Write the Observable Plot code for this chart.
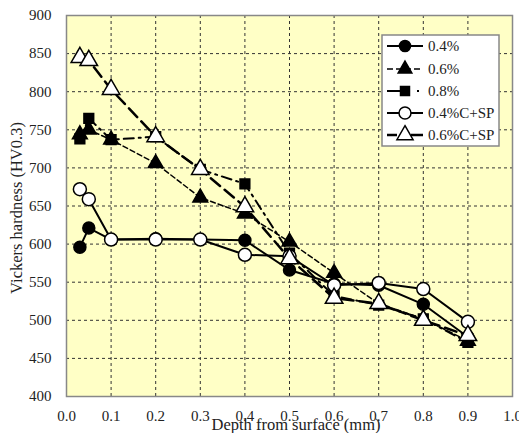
<!DOCTYPE html>
<html>
<head>
<meta charset="utf-8">
<script src="https://cdn.jsdelivr.net/npm/d3@7"></script>
<script src="https://cdn.jsdelivr.net/npm/@observablehq/plot@0.6"></script>
<style>
  html, body { margin: 0; padding: 0; background: #fff; }
  #chart { position: relative; width: 519px; height: 433px; }
</style>
</head>
<body>
<div id="chart"></div>
<script>
// ---- data ----
const depths = [0.03, 0.05, 0.1, 0.2, 0.3, 0.4, 0.5, 0.6, 0.7, 0.8, 0.9];
const hv04   = [596, 621, 606, 607, 606, 605, 566, 548, 546, 521, 478];
const hv06   = [744, 750, 737, 706, 661, 640, 603, 562, 522, 502, 473];
const hv08   = [738, 765, 737, 741, 698, 679, 588, 532, 520, 502, 471];
const hv04sp = [672, 659, 606, 606, 606, 586, 584, 546, 549, 541, 498];
const hv06sp = [845, 841, 803, 741, 698, 649, 581, 529, 522, 500, 480];
const seriesNames = ["0.4%", "0.6%", "0.8%", "0.4%C+SP", "0.6%C+SP"];
const xTicks = [0, 0.1, 0.2, 0.3, 0.4, 0.5, 0.6, 0.7, 0.8, 0.9, 1.0];
const yTicks = [400, 450, 500, 550, 600, 650, 700, 750, 800, 850, 900];
const xLabel = "Depth from surface (mm)";
const yLabel = "Vickers hardness (HV0.3)";

const FONT = "'Liberation Serif', 'DejaVu Serif', serif";

const styles = [
  {vals: hv04,   symbol: "circle",   fill: "black", r: 6,   dash: null,       sw: 2,   legDash: null},
  {vals: hv06,   symbol: "triangle", fill: "black", r: 5.5, dash: "5,3",      sw: 1.5, legDash: "6,3"},
  {vals: hv08,   symbol: "square",   fill: "black", r: 5.5, dash: "10,5,2,5", sw: 2,   legDash: "18,12,2,10"},
  {vals: hv04sp, symbol: "circle",   fill: "white", r: 6.5, dash: null,       sw: 2,   legDash: null},
  {vals: hv06sp, symbol: "triangle", fill: "white", r: 6.5, dash: "12,6",     sw: 2.5, legDash: "10,14,12,10"}
];

const marks = [
  Plot.frame({fill: "#FFFFC6"}),
  Plot.gridX(xTicks.slice(1, -1), {stroke: "#333", strokeOpacity: 1, strokeDasharray: "3,3", strokeWidth: 1}),
  Plot.gridY(yTicks.slice(1, -1), {stroke: "#333", strokeOpacity: 1, strokeDasharray: "3,3", strokeWidth: 1}),
  Plot.frame({stroke: "#888", strokeWidth: 1.5}),
  Plot.axisX(xTicks, {tickSize: 0, tickPadding: 14, tickFormat: d3.format(".1f"), label: null, fontSize: 15, fontFamily: FONT, fill: "#222"}),
  Plot.axisY(yTicks, {tickSize: 0, tickPadding: 15, label: null, fontSize: 15, fontFamily: FONT, fill: "#222"})
];
styles.forEach((s, i) => {
  const data = depths.map((d, j) => ({x: d, y: s.vals[j], s: seriesNames[i]}));
  marks.push(Plot.line(data, {x: "x", y: "y", stroke: "black", strokeWidth: s.sw, strokeDasharray: s.dash ?? undefined}));
  marks.push(Plot.dot(data, {x: "x", y: "y", symbol: () => s.symbol, r: s.r, fill: s.fill, stroke: "black", strokeWidth: 1.5}));
});

const plot = Plot.plot({
  width: 519,
  height: 433,
  marginLeft: 66,
  marginRight: 7,
  marginTop: 15,
  marginBottom: 37,
  style: {fontFamily: FONT, fontSize: "15px", color: "#222", background: "white", overflow: "visible"},
  x: {domain: [0, 1]},
  y: {domain: [400, 900]},
  symbol: {type: "identity"},
  marks
});
document.getElementById("chart").appendChild(plot);

const svg = d3.select(plot);

// ---- axis titles ----
svg.append("text").attr("x", 296).attr("y", 430).attr("text-anchor", "middle")
  .attr("font-family", FONT).attr("font-size", 16.5).attr("fill", "#222").text(xLabel);
svg.append("text").attr("transform", "translate(22,208) rotate(-90)").attr("text-anchor", "middle")
  .attr("font-family", FONT).attr("font-size", 16.5).attr("fill", "#222").text(yLabel);

// ---- legend ----
const lg = svg.append("g").attr("class", "legend");
lg.append("rect").attr("x", 382).attr("y", 35).attr("width", 117).attr("height", 111)
  .attr("fill", "white").attr("stroke", "#888").attr("stroke-width", 1.5);
const legendY = [46, 69, 91, 113, 135];
styles.forEach((s, i) => {
  const y = legendY[i];
  lg.append("line").attr("x1", 387).attr("x2", 423).attr("y1", y).attr("y2", y)
    .attr("stroke", "black").attr("stroke-width", s.sw)
    .attr("stroke-dasharray", s.legDash);
  const sym = s.symbol === "circle" ? d3.symbolCircle : s.symbol === "triangle" ? d3.symbolTriangle : d3.symbolSquare;
  lg.append("path").attr("d", d3.symbol(sym, Math.PI * s.r * s.r * 0.85)())
    .attr("transform", `translate(405,${y})`)
    .attr("fill", s.fill).attr("stroke", "black").attr("stroke-width", 1.5);
  lg.append("text").attr("x", 428).attr("y", y).attr("dy", "0.35em").attr("text-anchor", "start")
    .attr("font-family", FONT).attr("font-size", 15).attr("fill", "#222").text(seriesNames[i]);
});
</script>
</body>
</html>
